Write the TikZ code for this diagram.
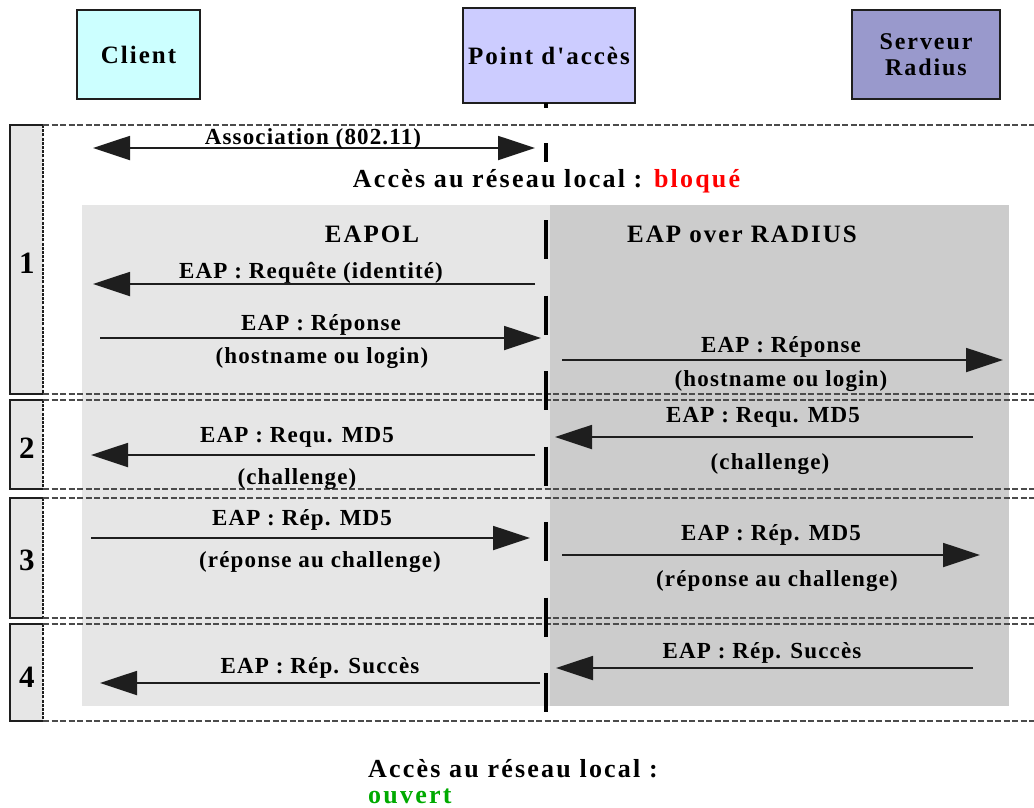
\documentclass[tikz,border=0pt]{standalone}
\usepackage{fontspec}
\setmainfont{Liberation Serif}
\newfontfamily\lblfont{Liberation Serif}[LetterSpace=5]
\newfontfamily\bigfont{Liberation Serif}[LetterSpace=8.5]
\newfontfamily\hdfont{Liberation Serif}[LetterSpace=8]
\usetikzlibrary{arrows.meta}
\definecolor{clientc}{RGB}{204,255,255}
\definecolor{apc}{RGB}{204,204,255}
\definecolor{radc}{RGB}{153,153,204}
\definecolor{lgray}{RGB}{230,230,230}
\definecolor{dgray}{RGB}{204,204,204}
\definecolor{okgreen}{RGB}{0,170,0}
\definecolor{linec}{RGB}{30,30,30}
\tikzset{
  actor/.style={draw=linec, line width=1.5pt, align=center, inner sep=0pt,
    font=\hdfont\bfseries\fontsize{25}{29}\selectfont},
  lbl/.style={anchor=base, inner sep=0pt, font=\lblfont\bfseries\fontsize{23}{26}\selectfont},
  big/.style={anchor=base, inner sep=0pt, font=\bigfont\bfseries\fontsize{26}{30}\selectfont},
  hdr/.style={anchor=base, inner sep=0pt, font=\hdfont\bfseries\fontsize{25}{28}\selectfont},
  num/.style={anchor=base, inner sep=0pt, font=\bfseries\fontsize{31}{33}\selectfont},
  msg/.style={line width=1.8pt, draw=linec, -{Triangle[length=37pt,width=24pt]}},
  dmsg/.style={line width=1.8pt, draw=linec, {Triangle[length=37pt,width=24pt]}-{Triangle[length=37pt,width=24pt]}},
  sepline/.style={line width=1.3pt, draw=linec!80, dash pattern=on 6pt off 2.5pt},
  numbox/.style={line width=1.5pt, draw=linec, fill=lgray},
  life/.style={line width=4pt, draw=black}
}
\begin{document}
\begin{tikzpicture}[x=1pt,y=-1pt]
\useasboundingbox (0,0) rectangle (1034,807);

% grey zones
\fill[lgray] (82,205) rectangle (550,706);
\fill[dgray] (550,205) rectangle (1009,706);

% actors
\node[actor, fill=clientc, minimum width=123pt, minimum height=89pt] (client) at (138.5,54.5) {Client};
\node[actor, fill=apc, minimum width=172pt, minimum height=95pt] (ap) at (549,55.5) {Point d'accès};
\node[actor, fill=radc, minimum width=148pt, minimum height=89pt, font=\hdfont\bfseries\fontsize{24}{26}\selectfont] (radius) at (926,54.5) {Serveur\\Radius};

% sections
\foreach \t/\b/\n/\nb [count=\i] in {125/394/1/273, 400/489/2/458, 498/618/3/570, 624/721/4/687}{
  \draw[numbox] (43,\t) -- (10,\t) -- (10,\b) -- (43,\b);
  \fill[lgray] (11,\t+1) rectangle (42,\b-1);
  \draw[line width=2pt, draw=linec, dash pattern=on 3pt off 1.2pt] (43,\t) -- (43,\b);
  \draw[sepline] (43,\t) -- (1034,\t);
  \draw[sepline] (43,\b) -- (1034,\b);
  \node[num] (n\i) at (27,\nb) {\n};
}

% lifeline of the access point
\coordinate (l0) at (546,103);
\coordinate (l1) at (546,108);
\coordinate (l2) at (546,143);
\coordinate (l3) at (546,162);
\coordinate (l4) at (546,220);
\coordinate (l5) at (546,712);
\draw[life] (l0) -- (l1);
\draw[life] (l2) -- (l3);
\draw[life, dash pattern=on 39pt off 36.5pt] (l4) -- (l5);

% association
\coordinate (asL) at (93,148);
\coordinate (asR) at (535,148);
\draw[dmsg] (asL) -- (asR);
\node[lbl] (tassoc) at (313,144) {Association (802.11)};
\node[big] (tbloque) at (546.5,187) {Accès au réseau local : \textcolor{red}{bloqué}};

\node[hdr] (eapol) at (372,242) {EAPOL};
\node[hdr] (eapr) at (742,242) {EAP over RADIUS};

% section 1
\coordinate (m1s) at (535,284); \coordinate (m1e) at (93,284);
\draw[msg] (m1s) -- (m1e);
\node[lbl] (t1) at (311,278) {EAP : Requête (identité)};

\coordinate (m2s) at (100,338); \coordinate (m2e) at (541,338);
\draw[msg] (m2s) -- (m2e);
\node[lbl] (t2a) at (321,330) {EAP : Réponse};
\node[lbl] (t2b) at (322,363) {(hostname ou login)};

\coordinate (m3s) at (562,360); \coordinate (m3e) at (1003,360);
\draw[msg] (m3s) -- (m3e);
\node[lbl] (t3a) at (781,352) {EAP : Réponse};
\node[lbl] (t3b) at (781,386) {(hostname ou login)};

% section 2
\coordinate (m4s) at (535,455); \coordinate (m4e) at (91,455);
\draw[msg] (m4s) -- (m4e);
\node[lbl] (t4a) at (297,442) {EAP : Requ. MD5};
\node[lbl] (t4b) at (297,484) {(challenge)};

\coordinate (m5s) at (973,437); \coordinate (m5e) at (555,437);
\draw[msg] (m5s) -- (m5e);
\node[lbl] (t5a) at (763,422) {EAP : Requ. MD5};
\node[lbl] (t5b) at (770,469) {(challenge)};

% section 3
\coordinate (m6s) at (91,538); \coordinate (m6e) at (530,538);
\draw[msg] (m6s) -- (m6e);
\node[lbl] (t6a) at (302,525) {EAP : Rép. MD5};
\node[lbl] (t6b) at (320,567) {(réponse au challenge)};

\coordinate (m7s) at (562,555); \coordinate (m7e) at (980,555);
\draw[msg] (m7s) -- (m7e);
\node[lbl] (t7a) at (771,540) {EAP : Rép. MD5};
\node[lbl] (t7b) at (777,586) {(réponse au challenge)};

% section 4
\coordinate (m8s) at (540,683); \coordinate (m8e) at (100,683);
\draw[msg] (m8s) -- (m8e);
\node[lbl] (t8) at (320,673) {EAP : Rép. Succès};

\coordinate (m9s) at (973,668); \coordinate (m9e) at (556,668);
\draw[msg] (m9s) -- (m9e);
\node[lbl] (t9) at (762,658) {EAP : Rép. Succès};

% bottom
\node[big, anchor=base west] (tacc) at (368,777) {Accès au réseau local :};
\node[big, anchor=base west, text=okgreen] (touv) at (368,803) {ouvert};
\end{tikzpicture}
\end{document}
